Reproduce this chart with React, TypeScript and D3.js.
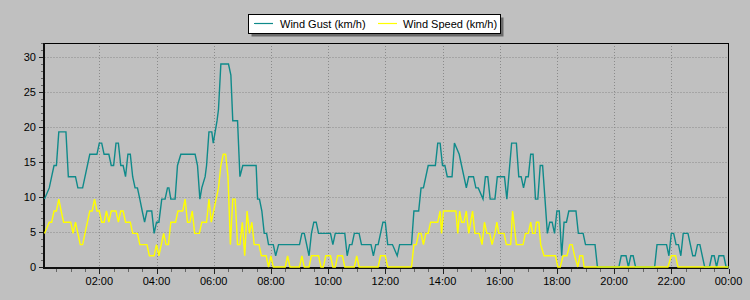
import React from "react";
import * as d3 from "d3";

// time in minutes since midnight, value in km/h
const gustTimes = [5,15,20,25,30,35,50,55,70,75,85,90,100,115,120,125,130,140,145,150,155,160,165,170,175,180,185,190,195,200,205,210,215,220,230,235,240,245,251,258,263,266,270,279,284,291,321,326,331,335,342,345,350,356,359,367,370,375,391,396,400,410,415,421,449,452,456,461,466,471,475,485,490,496,540,545,550,555,560,565,570,575,580,605,610,615,635,640,645,650,655,665,670,690,695,700,705,710,715,720,725,735,745,750,775,780,790,795,800,810,825,830,835,840,845,850,860,865,875,880,885,890,895,905,910,915,925,930,935,940,950,955,970,975,985,995,1000,1005,1010,1015,1020,1025,1030,1035,1040,1045,1050,1055,1060,1065,1070,1075,1080,1085,1090,1095,1100,1105,1120,1125,1135,1140,1160,1165,1210,1215,1225,1230,1235,1240,1245,1285,1290,1310,1315,1320,1325,1330,1335,1340,1345,1355,1360,1365,1370,1375,1380,1385,1390,1400,1405,1410,1415,1420,1430,1435,1440];
const gustValues = [9.7,11.3,12.9,14.5,14.5,19.3,19.3,12.9,12.9,11.3,11.3,12.9,16.1,16.1,17.7,17.7,16.1,16.1,14.5,14.5,17.7,17.7,14.5,14.5,12.9,16.1,16.1,12.9,11.3,11.3,9.7,8.0,6.4,8.0,8.0,4.8,6.4,6.4,9.7,9.7,11.3,11.3,9.7,9.7,14.5,16.1,16.1,14.5,9.7,11.3,12.9,14.5,19.3,19.3,17.7,20.9,22.5,29.0,29.0,27.4,20.9,20.9,12.9,14.5,14.5,9.7,9.7,8.0,4.8,4.8,3.2,3.2,1.6,3.2,3.2,4.8,4.8,3.2,1.6,4.8,6.4,6.4,4.8,4.8,3.2,4.8,4.8,1.6,3.2,3.2,4.8,4.8,3.2,3.2,1.6,3.2,3.2,4.8,6.4,6.4,3.2,3.2,1.6,3.2,3.2,8.0,8.0,11.3,11.3,14.5,14.5,17.7,17.7,14.5,14.5,12.9,12.9,17.7,16.1,14.5,12.9,11.3,12.9,12.9,11.3,11.3,9.7,12.9,12.9,9.7,9.7,12.9,12.9,9.7,17.7,17.7,12.9,12.9,11.3,12.9,12.9,16.1,16.1,9.7,9.7,14.5,14.5,9.7,4.8,6.4,6.4,4.8,8.0,8.0,1.6,6.4,6.4,8.0,8.0,4.8,4.8,3.2,3.2,0,0,1.6,1.6,0,1.6,1.6,0,0,3.2,3.2,1.6,4.8,4.8,3.2,3.2,1.6,4.8,4.8,3.2,1.6,1.6,3.2,3.2,1.6,0,0,1.6,1.6,0,1.6,1.6,0,0];

const speedTimes = [5,15,20,25,30,35,40,45,60,65,70,75,80,85,90,95,100,105,110,115,120,125,130,135,140,145,155,160,165,170,175,185,190,200,205,220,225,235,240,245,250,255,260,265,270,280,285,295,300,305,310,315,320,330,335,345,350,355,360,365,370,375,380,385,390,395,400,405,410,415,420,425,430,435,440,445,455,460,470,475,480,485,510,515,520,540,545,550,560,565,580,585,590,595,605,610,615,620,630,635,655,660,665,705,710,720,725,775,780,785,790,795,800,805,810,815,830,835,838,842,868,872,876,880,885,890,895,899,903,908,917,923,928,933,939,944,950,954,958,969,974,983,987,995,1009,1014,1020,1025,1029,1034,1037,1042,1046,1053,1077,1082,1087,1093,1101,1107,1112,1117,1124,1128,1134,1137,1313,1320,1329,1334,1440];
const speedValues = [4.8,6.4,6.4,8.0,8.0,9.7,8.0,6.4,6.4,4.8,6.4,4.8,3.2,3.2,4.8,6.4,8.0,8.0,9.7,8.0,8.0,6.4,6.4,8.0,6.4,8.0,8.0,6.4,8.0,8.0,6.4,6.4,4.8,4.8,3.2,3.2,1.6,1.6,3.2,1.6,3.2,4.8,3.2,3.2,6.4,6.4,8.0,8.0,9.7,6.4,6.4,8.0,4.8,4.8,6.4,6.4,9.7,6.4,8.0,9.7,11.3,14.5,16.1,16.1,12.9,3.2,9.7,9.7,3.2,3.2,6.4,1.6,8.0,4.8,6.4,3.2,3.2,1.6,1.6,0,1.6,0,0,1.6,0,0,1.6,0,0,1.6,1.6,0,0,1.6,1.6,0,0,1.6,1.6,0,0,1.6,0,0,1.6,1.6,0,0,3.2,3.2,4.8,4.8,3.2,4.8,4.8,6.4,6.4,8.0,4.8,8.0,8.0,4.8,8.0,6.4,6.4,8.0,4.8,6.4,8.0,4.8,4.8,3.2,6.4,4.8,4.8,3.2,4.8,6.4,4.8,4.8,3.2,3.2,8.0,3.2,3.2,4.8,4.8,6.4,4.8,4.8,6.4,6.4,3.2,1.6,1.6,0,0,1.6,1.6,3.2,3.2,1.6,0,1.6,1.6,0,0,1.6,1.6,0,0];

const seriesNames = ["Wind Gust (km/h)", "Wind Speed (km/h)"];
const seriesColors = ["#0f8a8a", "#ffff00"];
const yTickLabels = [0, 5, 10, 15, 20, 25, 30];
const xTickLabels = ["02:00","04:00","06:00","08:00","10:00","12:00","14:00","16:00","18:00","20:00","22:00","00:00"];

const W = 750, H = 300;
const left = 44.5, right = 728.5, top = 43, bottom = 267;
const font = "'Liberation Sans', Arial, sans-serif";

export default function App() {
  const x = d3.scaleLinear().domain([5, 1440]).range([left, right]);
  const y = d3.scaleLinear().domain([0, 32]).range([bottom, top]);
  const line = d3.line<[number, number]>().x(d => x(d[0])).y(d => y(d[1]));
  const gust: [number, number][] = gustTimes.map((t, i) => [t, gustValues[i]]);
  const speed: [number, number][] = speedTimes.map((t, i) => [t, speedValues[i]]);

  const majorX = xTickLabels.map((_, i) => (i + 1) * 120);
  const minorX = d3.range(30, 1441, 30);
  const minorY = d3.range(0, 33, 1);

  const legX = 248.5, legY = 14.5, legW = 252, legH = 19;

  return (
    <svg width={W} height={H} style={{ position: "absolute", left: 0, top: 0 }} fontFamily={font}>
      <rect x={0} y={0} width={W} height={H} fill="#c0c0c0" />
      {/* grid */}
      {yTickLabels.filter(v => v > 0).map(v => (
        <line key={"gy" + v} x1={left} x2={right} y1={Math.round(y(v)) + 0.5} y2={Math.round(y(v)) + 0.5}
          stroke="#8a8a8a" strokeDasharray="1,2" />
      ))}
      {majorX.filter(t => t < 1440).map(t => (
        <line key={"gx" + t} y1={top} y2={bottom} x1={Math.round(x(t)) + 0.5} x2={Math.round(x(t)) + 0.5}
          stroke="#8a8a8a" strokeDasharray="1,2" />
      ))}
      {/* ticks */}
      {minorY.map(v => {
        const major = v % 5 === 0;
        const yy = Math.round(y(v)) + 0.5;
        return <line key={"ty" + v} x1={major ? 39 : 41} x2={43} y1={yy} y2={yy} stroke={major ? "#222" : "#666"} />;
      })}
      {minorX.map(t => {
        const major = t % 120 === 0;
        const xx = Math.round(x(t)) + 0.5;
        return <line key={"tx" + t} x1={xx} x2={xx} y1={269} y2={major ? 274 : 272} stroke={major ? "#222" : "#666"} />;
      })}
      {yTickLabels.map(v => (
        <text key={"ly" + v} x={36} y={y(v)} dy="0.35em" textAnchor="end" fontSize={11} fill="#000">{v}</text>
      ))}
      {xTickLabels.map((s, i) => (
        <text key={"lx" + s + i} x={x(majorX[i])} y={285} textAnchor="middle" fontSize={11} fill="#000">{s}</text>
      ))}
      {/* frame */}
      <line x1={left} x2={right} y1={top + 0.5} y2={top + 0.5} stroke="#000" />
      <line x1={right} x2={right} y1={top} y2={bottom + 1} stroke="#000" />
      <line x1={left - 0.5} x2={left - 0.5} y1={top} y2={bottom + 2} stroke="#111" strokeWidth={2} />
      <line x1={left - 1.5} x2={right} y1={bottom + 1} y2={bottom + 1} stroke="#111" strokeWidth={2} />
      {/* series */}
      <path d={line(gust) || ""} fill="none" stroke={seriesColors[0]} strokeWidth={1.4} />
      <path d={line(speed) || ""} fill="none" stroke={seriesColors[1]} strokeWidth={1.4} />
      {/* legend */}
      <rect x={legX + 3} y={legY + 3} width={legW} height={legH} fill="#6a6a6a" />
      <rect x={legX} y={legY} width={legW} height={legH} fill="#fff" stroke="#000" />
      <line x1={254} x2={273} y1={23.5} y2={23.5} stroke={seriesColors[0]} strokeWidth={1.2} />
      <text x={280} y={24} dy="0.35em" fontSize={11} fill="#000">{seriesNames[0]}</text>
      <line x1={378} x2={397} y1={23.5} y2={23.5} stroke={seriesColors[1]} strokeWidth={1.2} />
      <text x={403} y={24} dy="0.35em" fontSize={11} fill="#000">{seriesNames[1]}</text>
    </svg>
  );
}
